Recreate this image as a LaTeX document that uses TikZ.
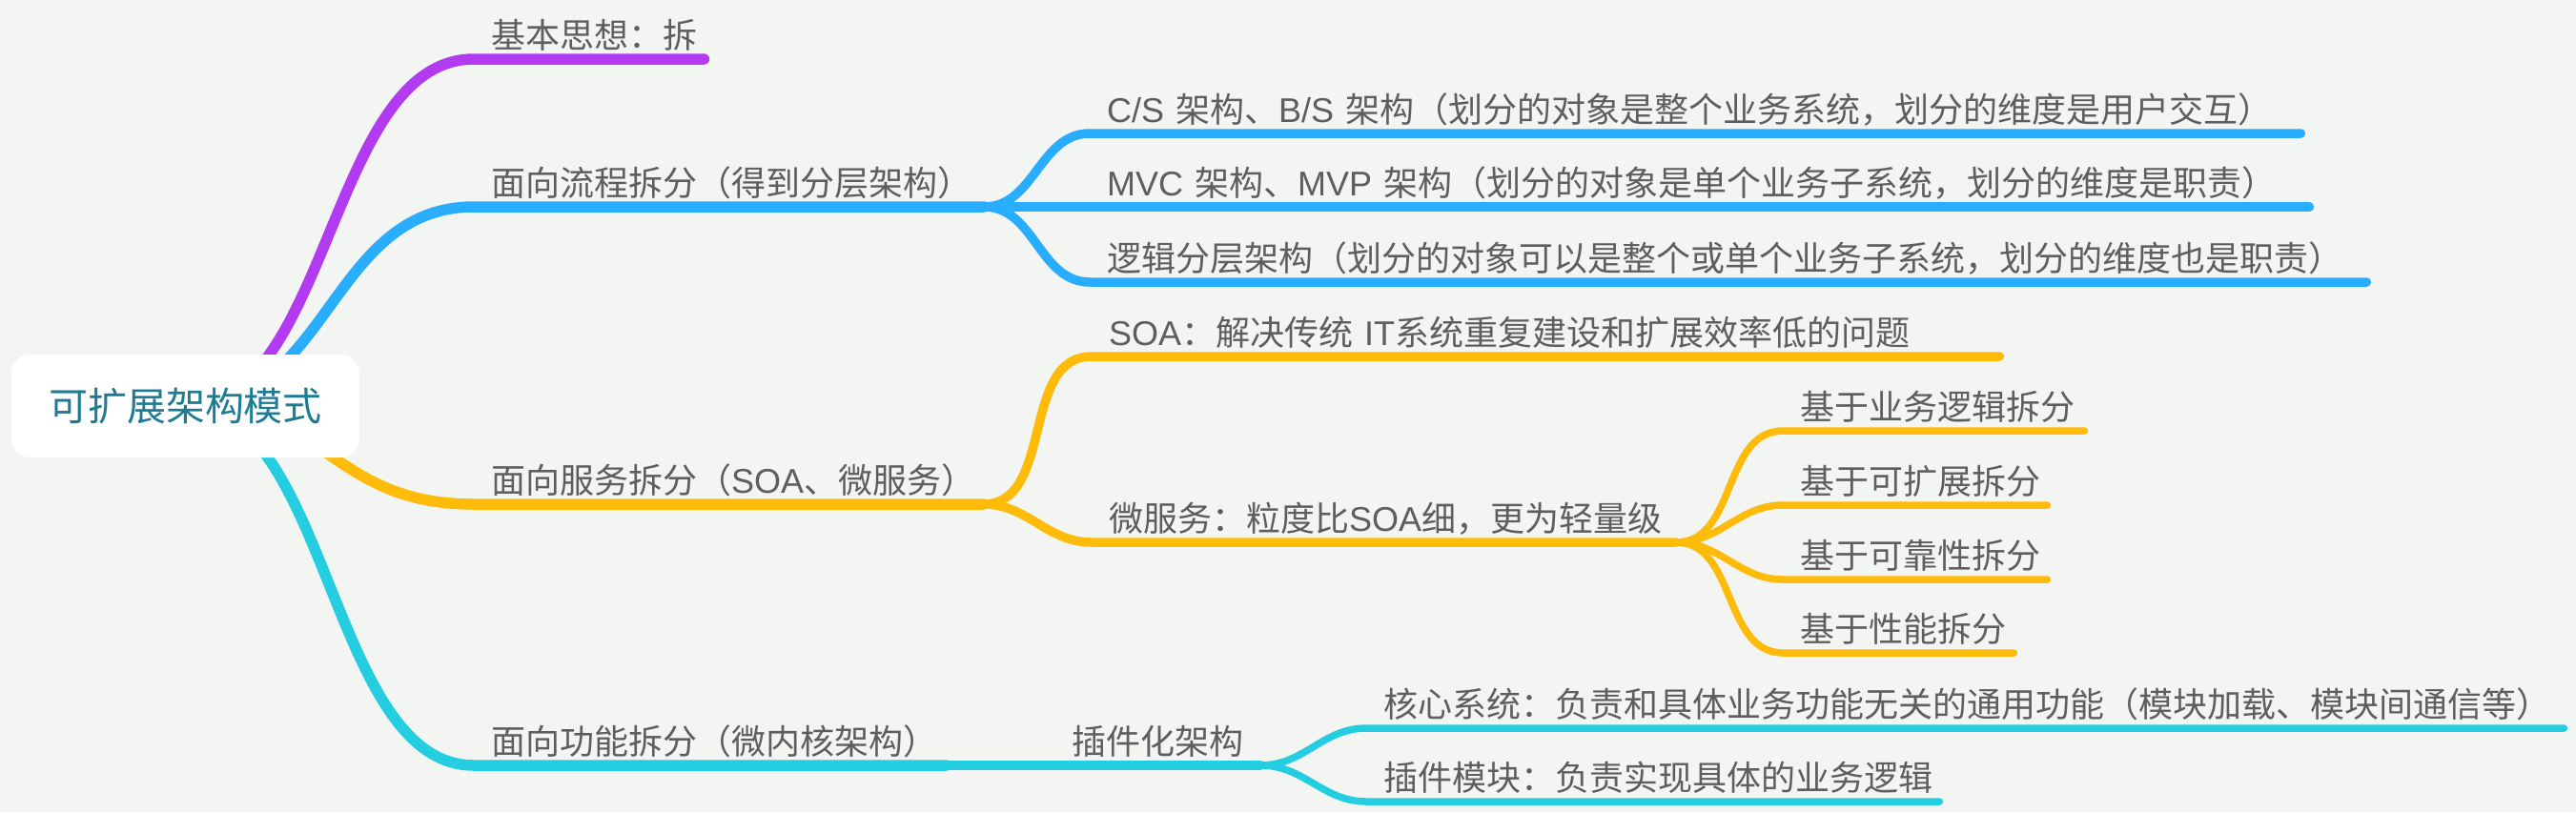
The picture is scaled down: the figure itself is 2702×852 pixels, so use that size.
\documentclass[tikz,border=0pt]{standalone}
\usepackage{fontspec}
\newfontfamily\cjkfont{Noto Sans CJK SC}
\newfontfamily\latfont{Liberation Sans}
\newcommand\latn[1]{{\latfont #1}}
\usetikzlibrary{backgrounds}
\definecolor{bgpaper}{HTML}{F3F5F2}
\definecolor{purp}{HTML}{B23BF2}
\definecolor{blu}{HTML}{29ADFE}
\definecolor{yel}{HTML}{FEBB0A}
\definecolor{tea}{HTML}{24CEE0}
\definecolor{txtgray}{HTML}{5E5E5E}
\definecolor{rootteal}{HTML}{1D7B94}

\begin{document}
\begin{tikzpicture}[x=1pt, y=-1pt,
  topic/.style={anchor=south west, align=left, inner xsep=18pt, inner ysep=11pt,
                text depth=0pt, text=txtgray,
                font=\cjkfont\fontsize{36}{43}\selectfont},
  rootbox/.style={fill=white, rounded corners=20pt, minimum width=365pt,
                  minimum height=108pt, text=rootteal,
                  font=\cjkfont\fontsize{41}{48}\selectfont},
  lvA/.style={line width=11.5pt, line cap=round},
  lvB/.style={line width=9.5pt, line cap=round},
  lvC/.style={line width=7.5pt, line cap=round},
  link/.style={out=0, in=180}
]
\useasboundingbox (0,0) rectangle (2702,852);
% root
\node[rootbox] (root) at (194.5,426) {可扩展架构模式};
% first level
\node[topic, text width=205pt] (p1) at (497,62) {基本思想：拆};
\node[topic, text width=499pt] (p2) at (497,217) {面向流程拆分（得到分层架构）};
\node[topic, text width=498pt] (p3) at (497,529) {面向服务拆分（\latn{SOA}、微服务）};
\node[topic, text width=459pt] (p4) at (497,803) {面向功能拆分（微内核架构）};
% flow split
\node[topic, text width=1234pt] (c1) at (1143,140)
  {\latn{C/S} 架构、\latn{B/S} 架构（划分的对象是整个业务系统，划分的维度是用户交互）};
\node[topic, text width=1243pt] (c2) at (1143,217)
  {\latn{MVC} 架构、\latn{MVP} 架构（划分的对象是单个业务子系统，划分的维度是职责）};
\node[topic, text width=1303pt] (c3) at (1143,296)
  {逻辑分层架构（划分的对象可以是整个或单个业务子系统，划分的维度也是职责）};
% service split
\node[topic, text width=916pt] (s1) at (1145,374)
  {\latn{SOA}：解决传统 \latn{IT}系统重复建设和扩展效率低的问题};
\node[topic, text width=577pt] (s2) at (1145,569) {微服务：粒度比\latn{SOA}细，更为轻量级};
\node[topic, text width=280pt] (m1) at (1870,452) {基于业务逻辑拆分};
\node[topic, text width=241pt] (m2) at (1870,530) {基于可扩展拆分};
\node[topic, text width=241pt] (m3) at (1870,608) {基于可靠性拆分};
\node[topic, text width=206pt] (m4) at (1870,685) {基于性能拆分};
% function split
\node[topic, text width=180pt] (f1) at (1106,803) {插件化架构};
\node[topic, text width=1220pt] (g1) at (1433,764)
  {核心系统：负责和具体业务功能无关的通用功能（模块加载、模块间通信等）};
\node[topic, text width=565pt] (g2) at (1433,841) {插件模块：负责实现具体的业务逻辑};

\begin{pgfonlayer}{background}
\fill[bgpaper] (0,0) rectangle (2702,852);
\draw[lvA, purp] (root.center) to[link, looseness=0.82] (p1.south west) -- (p1.south east);
\draw[lvA, blu] (root.center) to[link, looseness=1.05] (p2.south west) -- (p2.south east);
\draw[lvA, yel] (root.center) to[link, looseness=1.2] (p3.south west) -- (p3.south east);
\draw[lvA, tea] (root.center) to[link, looseness=0.8] (p4.south west) -- (p4.south east);
\draw[lvB, blu] (p2.south east) to[link] (c1.south west) -- (c1.south east);
\draw[lvB, blu] (p2.south east) to[link] (c2.south west) -- (c2.south east);
\draw[lvB, blu] (p2.south east) to[link] (c3.south west) -- (c3.south east);
\draw[lvB, yel] (p3.south east) to[link] (s1.south west) -- (s1.south east);
\draw[lvB, yel] (p3.south east) to[link] (s2.south west) -- (s2.south east);
\draw[lvC, yel] (s2.south east) to[link] (m1.south west) -- (m1.south east);
\draw[lvC, yel] (s2.south east) to[link] (m2.south west) -- (m2.south east);
\draw[lvC, yel] (s2.south east) to[link] (m3.south west) -- (m3.south east);
\draw[lvC, yel] (s2.south east) to[link] (m4.south west) -- (m4.south east);
\draw[lvB, tea] (p4.south east) -- (f1.south west) -- (f1.south east);
\draw[lvC, tea] (f1.south east) to[link] (g1.south west) -- (g1.south east);
\draw[lvC, tea] (f1.south east) to[link] (g2.south west) -- (g2.south east);
\end{pgfonlayer}
\end{tikzpicture}
\end{document}
